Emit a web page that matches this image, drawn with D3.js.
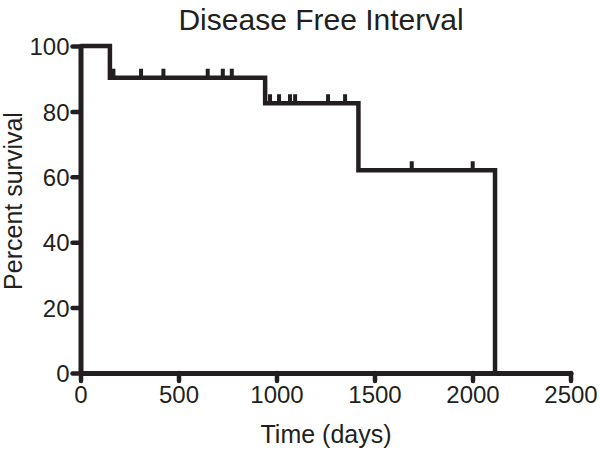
<!DOCTYPE html>
<html lang="en">
<head>
  <meta charset="utf-8">
  <title>Disease Free Interval</title>
  <script src="https://cdn.jsdelivr.net/npm/d3@7/dist/d3.min.js"></script>
</head>
<style>
  body { margin: 0; background: #fff; }
  text { font-family: "Liberation Sans", Arial, Helvetica, sans-serif; fill: #231f20; }
</style>
<body>
  <svg id="chart" width="600" height="458"></svg>
  <script type="text/javascript">
    // step times (days) and survival after each step
    var stepDays = [0, 150, 942, 1418, 2115];
    var stepSurvival = [100, 90.3, 82.5, 62.0, 0];
    // censored observations (days)
    var censorDays = [168, 309, 423, 649, 726, 772, 967, 1013, 1069, 1095, 1263, 1350, 1690, 2001];
    var xTicks = [0, 500, 1000, 1500, 2000, 2500];
    var yTicks = [0, 20, 40, 60, 80, 100];

    var ink = "#231f20";
    var svg = d3.select("#chart");

    var x = d3.scaleLinear().domain([0, 2500]).range([80.5, 570.5]);
    var y = d3.scaleLinear().domain([0, 100]).range([373, 46]);

    // survival at a given day
    function survivalAt(day) {
      var s = 100;
      for (var i = 0; i < stepDays.length; i++) {
        if (day >= stepDays[i]) s = stepSurvival[i];
      }
      return s;
    }

    // x axis
    var gx = svg.append("g")
      .attr("transform", "translate(0," + y(0) + ")")
      .call(d3.axisBottom(x).tickValues(xTicks).tickFormat(d3.format("d"))
        .tickSize(8).tickSizeOuter(0).tickPadding(5));
    // y axis
    var gy = svg.append("g")
      .attr("transform", "translate(" + x(0) + ",0)")
      .call(d3.axisLeft(y).tickValues(yTicks).tickFormat(d3.format("d"))
        .tickSize(8).tickSizeOuter(0).tickPadding(3));

    [gx, gy].forEach(function (g) {
      g.select(".domain").attr("stroke", ink).attr("stroke-width", 5).attr("stroke-linecap", "round");
      g.selectAll(".tick line").attr("stroke", ink).attr("stroke-width", 4.5).attr("stroke-linecap", "round");
      g.selectAll(".tick text").style("font-size", "24px").attr("fill", ink);
    });
    gx.selectAll(".tick text").attr("dy", "0.72em");
    gy.selectAll(".tick text").attr("dy", "0.36em");

    // survival curve
    var pts = [];
    for (var i = 0; i < stepDays.length; i++) {
      if (i > 0) pts.push([stepDays[i], stepSurvival[i - 1]]);
      pts.push([stepDays[i], stepSurvival[i]]);
    }
    var line = d3.line().x(function (d) { return x(d[0]); }).y(function (d) { return y(d[1]); });
    svg.append("path")
      .attr("d", line(pts))
      .attr("fill", "none")
      .attr("stroke", ink)
      .attr("stroke-width", 4.5)
      .attr("stroke-linejoin", "miter");

    // censor marks
    svg.selectAll("line.censor")
      .data(censorDays)
      .enter().append("line")
      .attr("class", "censor")
      .attr("x1", function (d) { return x(d); })
      .attr("x2", function (d) { return x(d); })
      .attr("y1", function (d) { return y(survivalAt(d)); })
      .attr("y2", function (d) { return y(survivalAt(d)) - 9; })
      .attr("stroke", ink)
      .attr("stroke-width", 4);

    // titles
    svg.append("text")
      .attr("x", 321).attr("y", 30)
      .attr("text-anchor", "middle")
      .style("font-size", "30px")
      .text("Disease Free Interval");

    svg.append("text")
      .attr("x", 326).attr("y", 443)
      .attr("text-anchor", "middle")
      .style("font-size", "25px")
      .text("Time (days)");

    svg.append("text")
      .attr("transform", "translate(22,201) rotate(-90)")
      .attr("text-anchor", "middle")
      .style("font-size", "25px")
      .text("Percent survival");
  </script>
</body>
</html>
